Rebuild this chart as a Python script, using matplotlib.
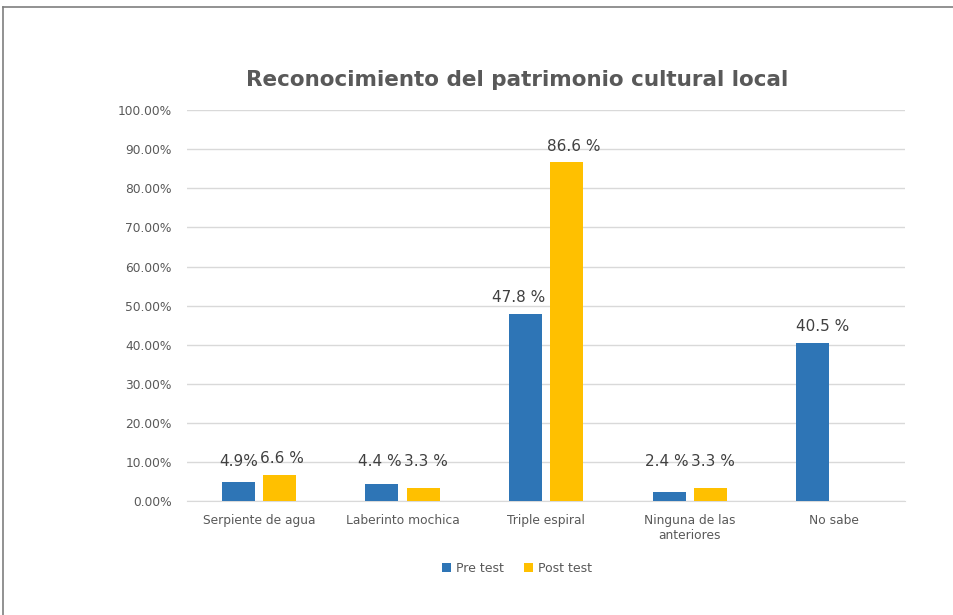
import numpy as np
import matplotlib.pyplot as plt
from matplotlib.lines import Line2D

categories = ['Serpiente de agua', 'Laberinto mochica', 'Triple espiral',
              'Ninguna de las\nanteriores', 'No sabe']
pre_test = [4.9, 4.4, 47.8, 2.4, 40.5]
post_test = [6.6, 3.3, 86.6, 3.3, 0.0]
pre_labels = ['4.9%', '4.4 %', '47.8 %', '2.4 %', '40.5 %']
post_labels = ['6.6 %', '3.3 %', '86.6 %', '3.3 %', '']
yticks = np.arange(0, 101, 10)

blue = '#2E75B6'
gold = '#FFC000'
grey = '#595959'

fig = plt.figure(figsize=(9.54, 6.15), dpi=100)
ax = fig.add_axes([0.196, 0.185, 0.753, 0.636])

# frame around chart area (only top and left edges visible in the picture)
fig.add_artist(Line2D([0.003, 1.0], [1 - 7/615, 1 - 7/615], color='#7f7f7f', lw=1.2))
fig.add_artist(Line2D([0.003, 0.003], [0.0, 1 - 7/615], color='#7f7f7f', lw=1.2))

x = np.arange(len(categories))
w = 0.23
off = 0.143
ax.bar(x - off, pre_test, w, color=blue, label='Pre test', zorder=3)
ax.bar(x + off, post_test, w, color=gold, label='Post test', zorder=3)

for i in range(len(categories)):
    # value labels sit just outside the pair so they don't collide
    if post_labels[i]:
        ax.text(x[i] - off + w/2 + 0.02, max(pre_test[i], 6.0) + 2.3, pre_labels[i],
                ha='right', va='bottom', fontsize=11, color='#404040')
        ax.text(x[i] + off - w/2 - 0.02, max(post_test[i], 6.0) + 2.3, post_labels[i],
                ha='left', va='bottom', fontsize=11, color='#404040')
    else:
        ax.text(x[i] - off - w/2, max(pre_test[i], 6.0) + 2.3, pre_labels[i],
                ha='left', va='bottom', fontsize=11, color='#404040')

ax.set_xlim(-0.5, len(categories) - 0.5)
ax.set_ylim(0, 100)
ax.set_yticks(yticks)
ax.set_yticklabels(['%.2f%%' % t for t in yticks])
ax.set_xticks(x)
ax.set_xticklabels(categories)
ax.tick_params(axis='both', length=0, colors=grey, labelsize=8.8)
ax.tick_params(axis='y', pad=11)
ax.tick_params(axis='x', pad=9)
ax.grid(axis='y', color='#D9D9D9', lw=1, zorder=0)
for s in ['top', 'right', 'left']:
    ax.spines[s].set_visible(False)
ax.spines['bottom'].set_color('#D9D9D9')

fig.text(0.542, 1 - 80/615, 'Reconocimiento del patrimonio cultural local',
         ha='center', va='center', fontsize=15.5, fontweight='bold', color=grey)

fig.legend(loc='center', bbox_to_anchor=(0.542, 1 - 568/615), ncol=2,
           frameon=False, fontsize=9, labelcolor=grey, handlelength=0.7,
           handleheight=0.7, handletextpad=0.4, columnspacing=1.6)

fig.savefig('out.png', dpi=100)
